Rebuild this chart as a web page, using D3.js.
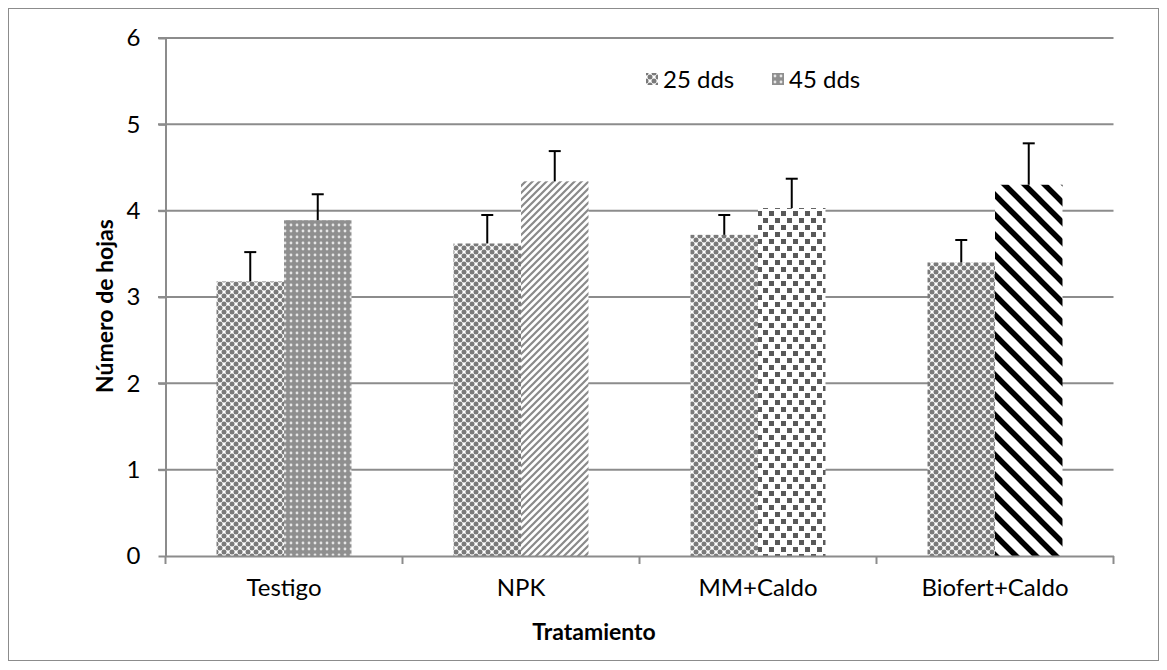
<!DOCTYPE html>
<html>
<head>
<meta charset="utf-8">
<script src="https://cdn.jsdelivr.net/npm/d3@7"></script>
<style>
  body { margin: 0; background: #fff; }
  text { font-family: Lato, "Open Sans", sans-serif; fill: #000; }
</style>
</head>
<body>
<svg id="chart" width="1167" height="670"></svg>
<script>
// values
var categories = ["Testigo", "NPK", "MM+Caldo", "Biofert+Caldo"]
var series = ["25 dds", "45 dds"]
var dds25 = [3.18, 3.62, 3.72, 3.40]
var err25 = [0.34, 0.33, 0.23, 0.26]
var dds45 = [3.89, 4.34, 4.03, 4.30]
var err45 = [0.30, 0.35, 0.34, 0.48]
var yTicks = [0, 1, 2, 3, 4, 5, 6]

// fill for every bar: series 1 has one fill, series 2 a different one per point
var fill25 = "p-confetti"
var fill45 = ["p-dots", "p-diag", "p-squares", "p-stripes"]

var svg = d3.select("#chart")

// outer frame of the chart
svg.append("rect")
    .attr("x", 8.5).attr("y", 8.5)
    .attr("width", 1150).attr("height", 652)
    .attr("fill", "#fff").attr("stroke", "#8c8c8c").attr("stroke-width", 1)

// patterns
var defs = svg.append("defs")

var p = defs.append("pattern").attr("id", "p-confetti")
    .attr("patternUnits", "userSpaceOnUse").attr("width", 8).attr("height", 8)
p.append("rect").attr("width", 8).attr("height", 8).attr("fill", "#fff")
;[[0,0],[8,0],[0,8],[8,8],[4,4]].forEach(function(c){
    p.append("circle").attr("cx", c[0]).attr("cy", c[1]).attr("r", 2.5).attr("fill", "#7a7a7a")
})

p = defs.append("pattern").attr("id", "p-dots")
    .attr("patternUnits", "userSpaceOnUse").attr("width", 6).attr("height", 6)
p.append("rect").attr("width", 6).attr("height", 6).attr("fill", "#8f8f8f")
p.append("circle").attr("cx", 3).attr("cy", 3).attr("r", 1.4).attr("fill", "#e6e6e6")

p = defs.append("pattern").attr("id", "p-diag")
    .attr("patternUnits", "userSpaceOnUse").attr("width", 7).attr("height", 7)
p.append("rect").attr("width", 7).attr("height", 7).attr("fill", "#fff")
p.append("path").attr("d", "M-1,1 l2,-2 M0,7 l7,-7 M6,8 l2,-2")
    .attr("stroke", "#8a8a8a").attr("stroke-width", 2.2)

p = defs.append("pattern").attr("id", "p-squares")
    .attr("patternUnits", "userSpaceOnUse").attr("width", 12).attr("height", 14)
p.append("rect").attr("width", 12).attr("height", 14).attr("fill", "#fff")
p.append("rect").attr("x", 1).attr("y", 1).attr("width", 5).attr("height", 5).attr("fill", "#595959")
p.append("rect").attr("x", 7).attr("y", 8).attr("width", 5).attr("height", 5).attr("fill", "#595959")

p = defs.append("pattern").attr("id", "p-stripes")
    .attr("patternUnits", "userSpaceOnUse").attr("width", 20).attr("height", 20)
p.append("rect").attr("width", 20).attr("height", 20).attr("fill", "#fff")
p.append("path").attr("d", "M-5,-5 L25,25 M15,-5 L25,5 M-5,15 L5,25")
    .attr("stroke", "#000").attr("stroke-width", 5.5)

// scales
var y = d3.scaleLinear().domain([0, 6]).range([556, 38])
var x = d3.scaleBand().domain(categories).range([165.5, 1113.5])
var xs = d3.scaleBand().domain(series).range([0, x.bandwidth()]).paddingOuter(0.756)

// gridlines
svg.append("g").selectAll("line")
    .data(yTicks.filter(function(d){ return d > 0 }))
    .enter().append("line")
    .attr("x1", 158).attr("x2", 1113.5)
    .attr("y1", function(d){ return y(d) }).attr("y2", function(d){ return y(d) })
    .attr("stroke", "#8c8c8c").attr("stroke-width", 2)

// bars
var rows = []
categories.forEach(function(c, i){
    rows.push({cat: c, s: series[0], v: dds25[i], e: err25[i], fill: fill25})
    rows.push({cat: c, s: series[1], v: dds45[i], e: err45[i], fill: fill45[i]})
})

svg.append("g").selectAll("rect")
    .data(rows)
    .enter().append("rect")
    .attr("x", function(d){ return x(d.cat) + xs(d.s) })
    .attr("y", function(d){ return y(d.v) })
    .attr("width", xs.bandwidth())
    .attr("height", function(d){ return y(0) - y(d.v) })
    .attr("fill", function(d){ return "url(#" + d.fill + ")" })

// error bars (upper only)
var eb = svg.append("g").attr("stroke", "#000").attr("stroke-width", 2)
eb.selectAll("line.stem")
    .data(rows).enter().append("line").attr("class", "stem")
    .attr("x1", function(d){ return x(d.cat) + xs(d.s) + xs.bandwidth() / 2 })
    .attr("x2", function(d){ return x(d.cat) + xs(d.s) + xs.bandwidth() / 2 })
    .attr("y1", function(d){ return y(d.v) })
    .attr("y2", function(d){ return y(d.v + d.e) })
eb.selectAll("line.cap")
    .data(rows).enter().append("line").attr("class", "cap")
    .attr("x1", function(d){ return x(d.cat) + xs(d.s) + xs.bandwidth() / 2 - 6 })
    .attr("x2", function(d){ return x(d.cat) + xs(d.s) + xs.bandwidth() / 2 + 6 })
    .attr("y1", function(d){ return y(d.v + d.e) })
    .attr("y2", function(d){ return y(d.v + d.e) })

// y axis
var yAxis = svg.append("g").attr("transform", "translate(165.5,0)")
    .call(d3.axisLeft(y).tickValues(yTicks).tickFormat(d3.format("d")).tickSize(7).tickSizeOuter(0))
yAxis.select(".domain").attr("stroke", "#8c8c8c").attr("stroke-width", 2)
yAxis.selectAll(".tick line").attr("stroke", "#8c8c8c").attr("stroke-width", 2)
yAxis.selectAll(".tick text").attr("x", -25).style("font-size", "24px").attr("fill", "#000")

// x axis, with ticks at the category boundaries
var xAxis = svg.append("g").attr("transform", "translate(0,556)")
    .call(d3.axisBottom(x).tickSize(0).tickSizeOuter(0))
xAxis.select(".domain").attr("stroke", "#8c8c8c").attr("stroke-width", 2)
xAxis.selectAll(".tick text").attr("dy", "1.55em").style("font-size", "24px").attr("fill", "#000")
xAxis.selectAll("line.bound")
    .data(categories.concat(["end"]))
    .enter().append("line").attr("class", "bound")
    .attr("x1", function(d, i){ return 165.5 + i * x.step() })
    .attr("x2", function(d, i){ return 165.5 + i * x.step() })
    .attr("y1", 0).attr("y2", 8)
    .attr("stroke", "#8c8c8c").attr("stroke-width", 2)

// axis titles
svg.append("text")
    .attr("x", 594).attr("y", 640)
    .attr("text-anchor", "middle")
    .style("font-size", "23px").style("font-weight", "bold")
    .text("Tratamiento")

svg.append("text")
    .attr("transform", "translate(113,306) rotate(-90)")
    .attr("text-anchor", "middle")
    .style("font-size", "23px").style("font-weight", "bold")
    .text("Número de hojas")

// legend
var legend = svg.append("g").selectAll("g")
    .data(series).enter().append("g")
    .attr("transform", function(d, i){ return "translate(" + (646 + i * 126) + ",73)" })
legend.append("rect")
    .attr("width", 12).attr("height", 12)
    .attr("fill", function(d, i){ return i == 0 ? "url(#p-confetti)" : "url(#p-dots)" })
legend.append("text")
    .attr("x", 17).attr("y", 15)
    .style("font-size", "24px")
    .text(function(d){ return d })
</script>
</body>
</html>
